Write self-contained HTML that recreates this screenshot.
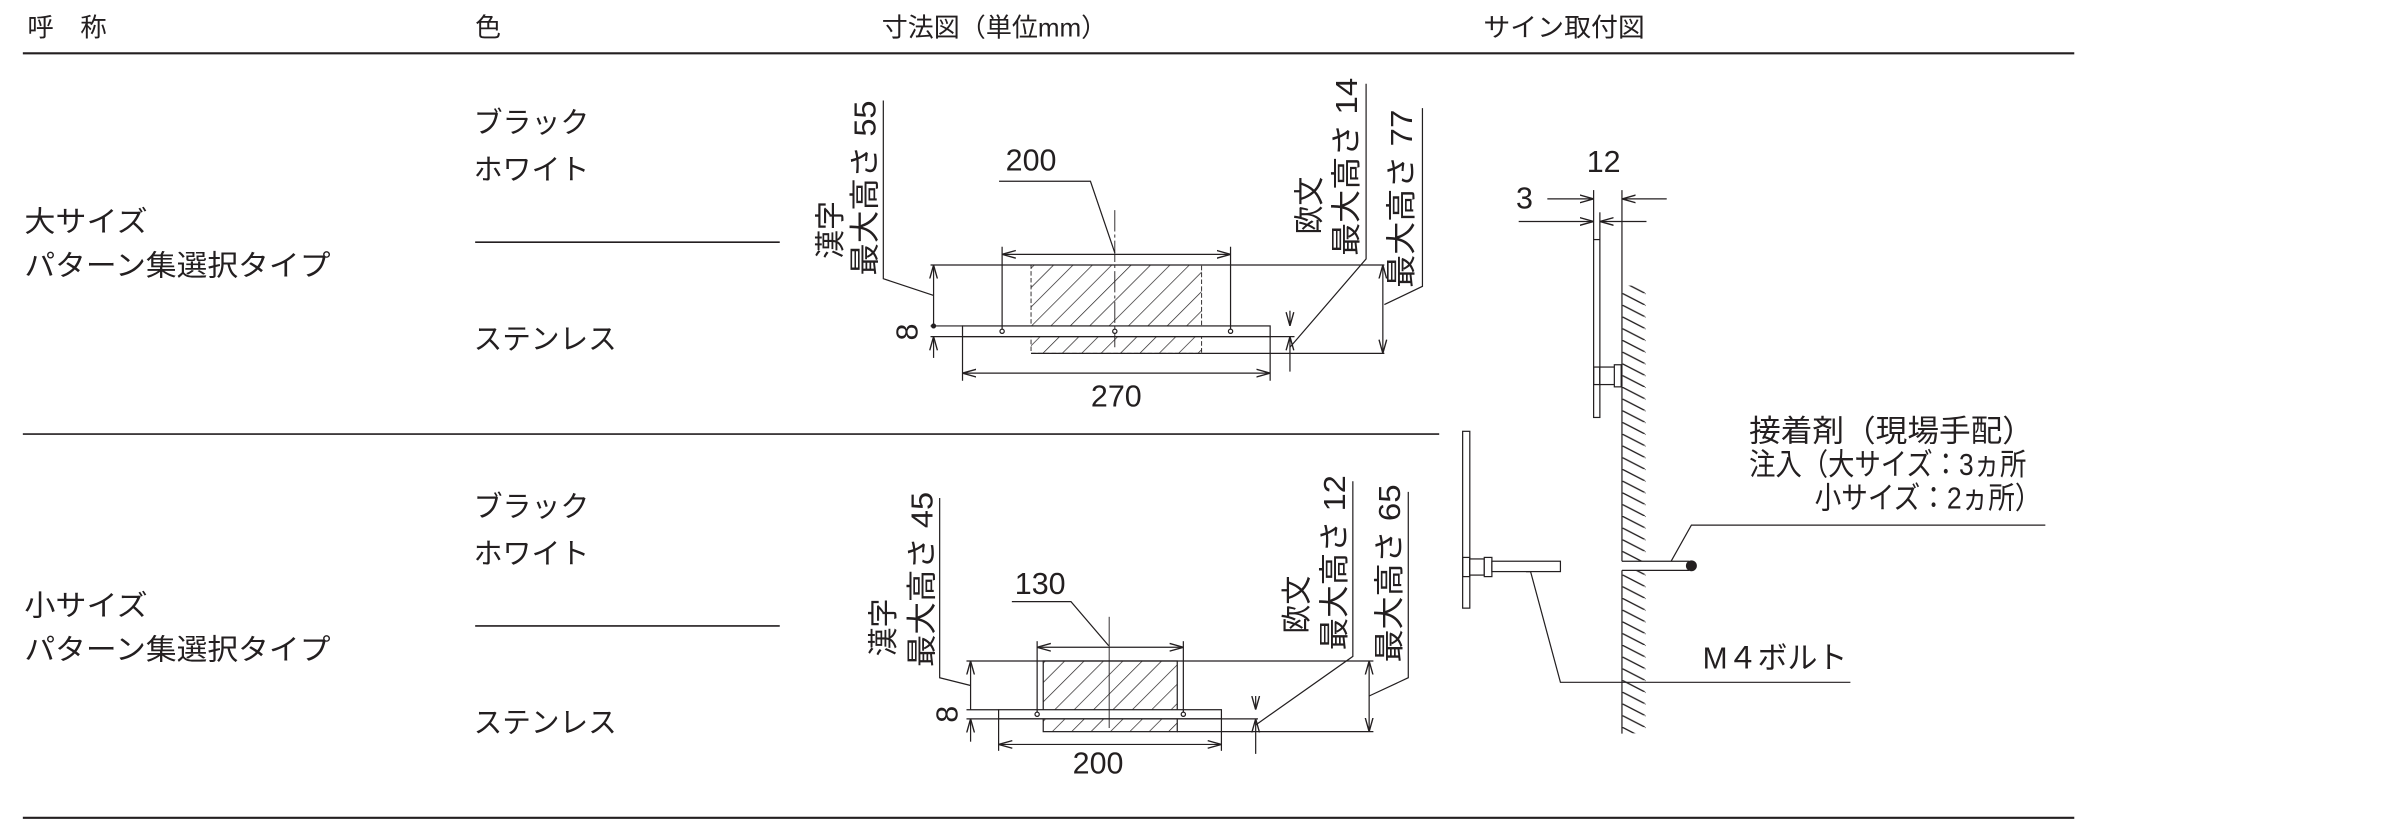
<!DOCTYPE html>
<html><head><meta charset="utf-8">
<style>
html,body{margin:0;padding:0;background:#fff;}
svg{display:block;}
text{font-family:"Liberation Sans","Noto Sans CJK JP",sans-serif;fill:#231f20;}
</style></head>
<body>
<svg width="2388" height="827" viewBox="0 0 1568 543" xmlns="http://www.w3.org/2000/svg">
<defs>
<marker id="ar" viewBox="0 0 10 10" refX="10" refY="5" markerWidth="9" markerHeight="9" markerUnits="userSpaceOnUse" orient="auto-start-reverse">
<path d="M0,2.2 L10,5 L0,7.8" fill="none" stroke="#231f20" stroke-width="1"/>
</marker>
<pattern id="hat" patternUnits="userSpaceOnUse" width="9" height="9" patternTransform="rotate(45)">
<line x1="0" y1="0" x2="0" y2="9" stroke="#231f20" stroke-width="0.9"/>
</pattern>
<pattern id="wallh" patternUnits="userSpaceOnUse" width="15" height="7.7" >
<line x1="0" y1="0" x2="15" y2="7.7" stroke="#231f20" stroke-width="0.9"/>
</pattern>
</defs>
<g stroke="#231f20" fill="none" stroke-width="0.8">
<line x1="15" y1="35" x2="1362" y2="35" stroke-width="1.4"/>
<line x1="15" y1="285" x2="945" y2="285" stroke-width="1.1"/>
<line x1="15" y1="537" x2="1362" y2="537" stroke-width="1.4"/>
<line x1="312" y1="159" x2="512" y2="159" stroke-width="1.1"/>
<line x1="312" y1="411" x2="512" y2="411" stroke-width="1.1"/>
</g>
<g font-size="17" lengthAdjust="spacingAndGlyphs">
<text x="18" y="24" textLength="52" lengthAdjust="spacingAndGlyphs">呼　称</text>
<text x="312" y="24">色</text>
<text x="579" y="24" textLength="148" lengthAdjust="spacingAndGlyphs">寸法図（単位mm）</text>
<text x="974" y="24" textLength="106" lengthAdjust="spacingAndGlyphs">サイン取付図</text>
</g>
<g font-size="19">
<text x="311" y="87">ブラック</text>
<text x="311" y="118">ホワイト</text>
<text x="16" y="152" textLength="81" lengthAdjust="spacingAndGlyphs">大サイズ</text>
<text x="16" y="181" textLength="201" lengthAdjust="spacingAndGlyphs">パターン集選択タイプ</text>
<text x="311" y="229" textLength="94" lengthAdjust="spacingAndGlyphs">ステンレス</text>
<text x="311" y="339">ブラック</text>
<text x="311" y="370">ホワイト</text>
<text x="16" y="404" textLength="81" lengthAdjust="spacingAndGlyphs">小サイズ</text>
<text x="16" y="433" textLength="201" lengthAdjust="spacingAndGlyphs">パターン集選択タイプ</text>
<text x="311" y="481" textLength="94" lengthAdjust="spacingAndGlyphs">ステンレス</text>
</g>

<!-- ===== Drawing 1 ===== -->
<g stroke="#231f20" fill="none" stroke-width="0.8">
<rect x="677" y="174" width="112" height="58" fill="url(#hat)" stroke-dasharray="3,1.5" stroke-width="0.6"/>
<line x1="611" y1="174" x2="909" y2="174"/>
<line x1="789" y1="232" x2="909" y2="232"/>
<line x1="677" y1="232" x2="789" y2="232"/>
<rect x="632" y="214" width="202" height="7" fill="#fff"/>
<line x1="611" y1="214" x2="632" y2="214"/>
<line x1="611" y1="221" x2="850" y2="221"/>
<line x1="658" y1="162" x2="658" y2="216"/>
<line x1="808" y1="162" x2="808" y2="216"/>
<line x1="658" y1="167" x2="808" y2="167" marker-start="url(#ar)" marker-end="url(#ar)"/>
<line x1="732" y1="138" x2="732" y2="228" stroke-dasharray="14,2,2,2" stroke-width="0.6"/>
<polyline points="656,119 716,119 732,166"/>
<circle cx="658" cy="217.5" r="1.4" fill="#fff"/>
<circle cx="732" cy="217.5" r="1.4" fill="#fff"/>
<circle cx="808" cy="217.5" r="1.4" fill="#fff"/>
<line x1="613" y1="174" x2="613" y2="214" marker-start="url(#ar)"/>
<line x1="613" y1="221" x2="613" y2="235" marker-start="url(#ar)"/>
<circle cx="613" cy="214" r="1.3" fill="#231f20"/>
<polyline points="580,66 580,183 613,194"/>
<line x1="632" y1="221" x2="632" y2="250"/>
<line x1="834" y1="221" x2="834" y2="250"/>
<line x1="632" y1="245" x2="834" y2="245" marker-start="url(#ar)" marker-end="url(#ar)"/>
<line x1="847" y1="204" x2="847" y2="214" marker-end="url(#ar)"/>
<line x1="847" y1="221" x2="847" y2="244" marker-start="url(#ar)"/>
<polyline points="897,55 897,170 847,228"/>
<line x1="908" y1="174" x2="908" y2="232" marker-start="url(#ar)" marker-end="url(#ar)"/>
<polyline points="934,71 934,188 909,200"/>
</g>
<g font-size="20">
<text x="677" y="112" text-anchor="middle">200</text>
<text x="733" y="267" text-anchor="middle">270</text>
<text transform="translate(596,218) rotate(-90)" text-anchor="middle" dominant-baseline="central">8</text>
<text transform="translate(545.5,170) rotate(-90)" dominant-baseline="central" textLength="38" lengthAdjust="spacingAndGlyphs">漢字</text>
<text transform="translate(568.3,181) rotate(-90)" dominant-baseline="central" textLength="115" lengthAdjust="spacingAndGlyphs">最大高さ 55</text>
<text transform="translate(860.2,154) rotate(-90)" dominant-baseline="central" textLength="38" lengthAdjust="spacingAndGlyphs">欧文</text>
<text transform="translate(884.4,168) rotate(-90)" dominant-baseline="central" textLength="117" lengthAdjust="spacingAndGlyphs">最大高さ 14</text>
<text transform="translate(920.7,189) rotate(-90)" dominant-baseline="central" textLength="117" lengthAdjust="spacingAndGlyphs">最大高さ 77</text>
</g>

<!-- ===== Drawing 2 ===== -->
<g stroke="#231f20" fill="none" stroke-width="0.8">
<rect x="685" y="434" width="88" height="46.4" fill="url(#hat)"/>
<line x1="634.6" y1="434" x2="901.8" y2="434"/>
<line x1="773" y1="480.4" x2="901.8" y2="480.4"/>
<rect x="655.7" y="466" width="146.3" height="6" fill="#fff"/>
<line x1="634.6" y1="466" x2="655.7" y2="466"/>
<line x1="634.6" y1="472" x2="826" y2="472"/>
<line x1="681" y1="421" x2="681" y2="468"/>
<line x1="777" y1="421" x2="777" y2="468"/>
<line x1="681" y1="425" x2="777" y2="425" marker-start="url(#ar)" marker-end="url(#ar)"/>
<line x1="728.3" y1="405" x2="728.3" y2="478" stroke-width="0.6"/>
<polyline points="664.4,395 703.2,395 728,424"/>
<circle cx="681" cy="469" r="1.4" fill="#fff"/>
<circle cx="777" cy="469" r="1.4" fill="#fff"/>
<line x1="637.3" y1="434" x2="637.3" y2="466" marker-start="url(#ar)"/>
<line x1="637.3" y1="472" x2="637.3" y2="487" marker-start="url(#ar)"/>
<polyline points="617,327 617,445 637,450"/>
<line x1="655.7" y1="472" x2="655.7" y2="493"/>
<line x1="802" y1="472" x2="802" y2="493"/>
<line x1="655.7" y1="488.8" x2="802" y2="488.8" marker-start="url(#ar)" marker-end="url(#ar)"/>
<line x1="824.5" y1="457" x2="824.5" y2="466" marker-end="url(#ar)"/>
<line x1="824.5" y1="472" x2="824.5" y2="495" marker-start="url(#ar)"/>
<polyline points="888.3,316 888.3,431 824.5,476"/>
<line x1="899" y1="434" x2="899" y2="480.4" marker-start="url(#ar)" marker-end="url(#ar)"/>
<polyline points="924.7,323 924.7,445 899,457"/>
</g>
<g font-size="20">
<text x="683" y="390" text-anchor="middle">130</text>
<text x="721" y="508" text-anchor="middle">200</text>
<text transform="translate(622,469) rotate(-90)" text-anchor="middle" dominant-baseline="central">8</text>
<text transform="translate(580.6,431) rotate(-90)" dominant-baseline="central" textLength="38" lengthAdjust="spacingAndGlyphs">漢字</text>
<text transform="translate(605.6,438) rotate(-90)" dominant-baseline="central" textLength="115" lengthAdjust="spacingAndGlyphs">最大高さ 45</text>
<text transform="translate(852,416) rotate(-90)" dominant-baseline="central" textLength="38" lengthAdjust="spacingAndGlyphs">欧文</text>
<text transform="translate(876.5,427) rotate(-90)" dominant-baseline="central" textLength="115" lengthAdjust="spacingAndGlyphs">最大高さ 12</text>
<text transform="translate(912.8,435) rotate(-90)" dominant-baseline="central" textLength="117" lengthAdjust="spacingAndGlyphs">最大高さ 65</text>
</g>

<!-- ===== Mounting drawing ===== -->
<g stroke="#231f20" fill="none" stroke-width="0.8">
<rect x="1065" y="187.5" width="15.5" height="294" fill="url(#wallh)" stroke="none"/>
<rect x="1065" y="368.5" width="46" height="6" fill="#fff" stroke="none"/>
<line x1="1065" y1="124.8" x2="1065" y2="368.5"/>
<line x1="1065" y1="374.5" x2="1065" y2="481.7"/>
<line x1="1065" y1="368.5" x2="1109" y2="368.5"/>
<line x1="1065" y1="374.5" x2="1109" y2="374.5"/>
<circle cx="1110.6" cy="371.5" r="3.6" fill="#231f20" stroke="none"/>
<polyline points="1097.3,368.5 1110.6,344.8 1343,344.8"/>
<line x1="1046.4" y1="124.8" x2="1046.4" y2="157"/>
<line x1="1050.5" y1="139.4" x2="1050.5" y2="157"/>
<line x1="1016" y1="130.6" x2="1046.4" y2="130.6" marker-end="url(#ar)"/>
<line x1="1065" y1="130.6" x2="1094.4" y2="130.6" marker-start="url(#ar)"/>
<line x1="997.2" y1="145.4" x2="1046.4" y2="145.4" marker-end="url(#ar)"/>
<line x1="1050.5" y1="145.4" x2="1081.1" y2="145.4" marker-start="url(#ar)"/>
<rect x="1046.4" y="157.3" width="4.1" height="116.8" fill="#fff"/>
<rect x="1046.4" y="241" width="4.1" height="11.5"/>
<rect x="1050.5" y="241" width="10" height="11.5" fill="#fff"/>
<rect x="1060" y="239.5" width="4.5" height="14.5" fill="#fff"/>
<rect x="960.4" y="283.2" width="4.7" height="116.1" fill="#fff"/>
<rect x="960.4" y="366" width="4.7" height="12.6"/>
<rect x="965.1" y="367" width="9.5" height="10.6" fill="#fff"/>
<rect x="974.6" y="366" width="5" height="12.6" fill="#fff"/>
<rect x="979.6" y="368.5" width="45" height="6.8" fill="#fff"/>
<polyline points="1002,375.3 1005,375.3 1024.6,448 1215,448"/>
</g>
<g font-size="20">
<text x="1053" y="113" text-anchor="middle">12</text>
<text x="1001" y="137" text-anchor="middle">3</text>
<text x="1148.5" y="290" textLength="187" lengthAdjust="spacingAndGlyphs">接着剤（現場手配）</text>
<text x="1148.5" y="312" textLength="182" lengthAdjust="spacingAndGlyphs">注入（大サイズ：3ヵ所</text>
<text x="1191.5" y="334" textLength="149" lengthAdjust="spacingAndGlyphs">小サイズ：2ヵ所）</text>
<text x="1118" y="439" textLength="95" lengthAdjust="spacingAndGlyphs">M４ボルト</text>
</g>
</svg>
</body></html>
